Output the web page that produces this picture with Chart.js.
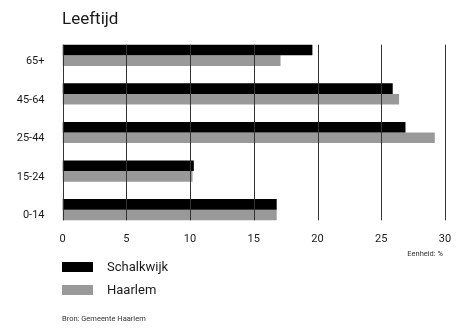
<!DOCTYPE html>
<html>
<head>
<meta charset="utf-8">
<script src="https://cdn.jsdelivr.net/npm/chart.js@4"></script>
<style>
  html, body { margin: 0; padding: 0; background: #fff; }
  body { width: 466px; height: 331px; position: relative; overflow: hidden; font-family: Roboto, 'Noto Sans', sans-serif; color: #1a1a1a; }
  #wrap { position: absolute; left: 0; top: 0; width: 466px; height: 331px; }
  .title { position: absolute; left: 62px; top: 8px; font-size: 17px; }
  .unit { position: absolute; right: 23px; top: 249px; font-size: 7.5px; color: #333; }
  .legend { position: absolute; left: 62px; font-size: 13px; }
  .legend span.box { position: absolute; left: 0; width: 31px; height: 10px; }
  .legend span.lbl { position: absolute; left: 45px; top: -3px; white-space: nowrap; }
  .src { position: absolute; left: 62px; top: 314px; font-size: 7.5px; color: #333; }
</style>
</head>
<body>
<div id="wrap"><canvas id="chart" width="466" height="331"></canvas></div>
<div class="title">Leeftijd</div>
<div class="unit">Eenheid: %</div>
<div id="legend"></div>
<div class="src">Bron: Gemeente Haarlem</div>
<script>
/* Leeftijd - Schalkwijk vs Haarlem */

const categories = ['65+', '45-64', '25-44', '15-24', '0-14'];
const schalkwijk = [19.6, 25.9, 26.9, 10.3, 16.8];
const haarlem = [17.1, 26.4, 29.2, 10.2, 16.8];
const xTicks = [0, 5, 10, 15, 20, 25, 30];

const colors = {
  schalkwijk: '#000000',
  haarlem: '#999999',
  grid: '#333333',
  text: '#1a1a1a',
};

const font = { family: "Roboto, 'Noto Sans', sans-serif", size: 11 };

// gridlines over the bars, only from first bar top to last bar bottom
const overGrid = {
  id: 'overGrid',
  afterDatasetsDraw(chart) {
    const ctx = chart.ctx;
    const x = chart.scales.x;
    const first = chart.getDatasetMeta(0).data[0];
    const lastMeta = chart.getDatasetMeta(chart.data.datasets.length - 1);
    const last = lastMeta.data[lastMeta.data.length - 1];
    const top = first.y - first.height / 2;
    const bottom = last.y + last.height / 2;
    ctx.save();
    ctx.strokeStyle = colors.grid;
    ctx.lineWidth = 1;
    xTicks.forEach(v => {
      const px = Math.round(x.getPixelForValue(v)) + 0.5;
      ctx.beginPath();
      ctx.moveTo(px, top);
      ctx.lineTo(px, bottom);
      ctx.stroke();
    });
    ctx.restore();
  },
};

new Chart(document.getElementById('chart'), {
  type: 'bar',
  data: {
    labels: categories,
    datasets: [
      { label: 'Schalkwijk', data: schalkwijk, backgroundColor: colors.schalkwijk },
      { label: 'Haarlem', data: haarlem, backgroundColor: colors.haarlem },
    ],
  },
  options: {
    indexAxis: 'y',
    responsive: false,
    animation: false,
    categoryPercentage: 0.55,
    barPercentage: 1.0,
    layout: { padding: { top: 36, right: 21, bottom: 82, left: 0 } },
    plugins: { legend: { display: false }, tooltip: { enabled: false } },
    scales: {
      x: {
        min: 0, max: 30,
        grid: { display: false },
        border: { display: false },
        ticks: { stepSize: 5, padding: -4, color: colors.text, font: font },
        afterFit(scale) { scale.height = 20; },
      },
      y: {
        grid: { display: false },
        border: { display: false },
        ticks: { padding: 10, labelOffset: 6, color: colors.text, font: font },
        afterFit(scale) { scale.width = 62.5; },
      },
    },
  },
  plugins: [overGrid],
});

// legend
const legendItems = [
  { label: 'Schalkwijk', color: colors.schalkwijk, top: 262 },
  { label: 'Haarlem', color: colors.haarlem, top: 285 },
];
document.getElementById('legend').innerHTML = legendItems.map(it =>
  `<div class="legend" style="top:${it.top}px"><span class="box" style="background:${it.color}"></span><span class="lbl">${it.label}</span></div>`
).join('');
</script>
</body>
</html>
